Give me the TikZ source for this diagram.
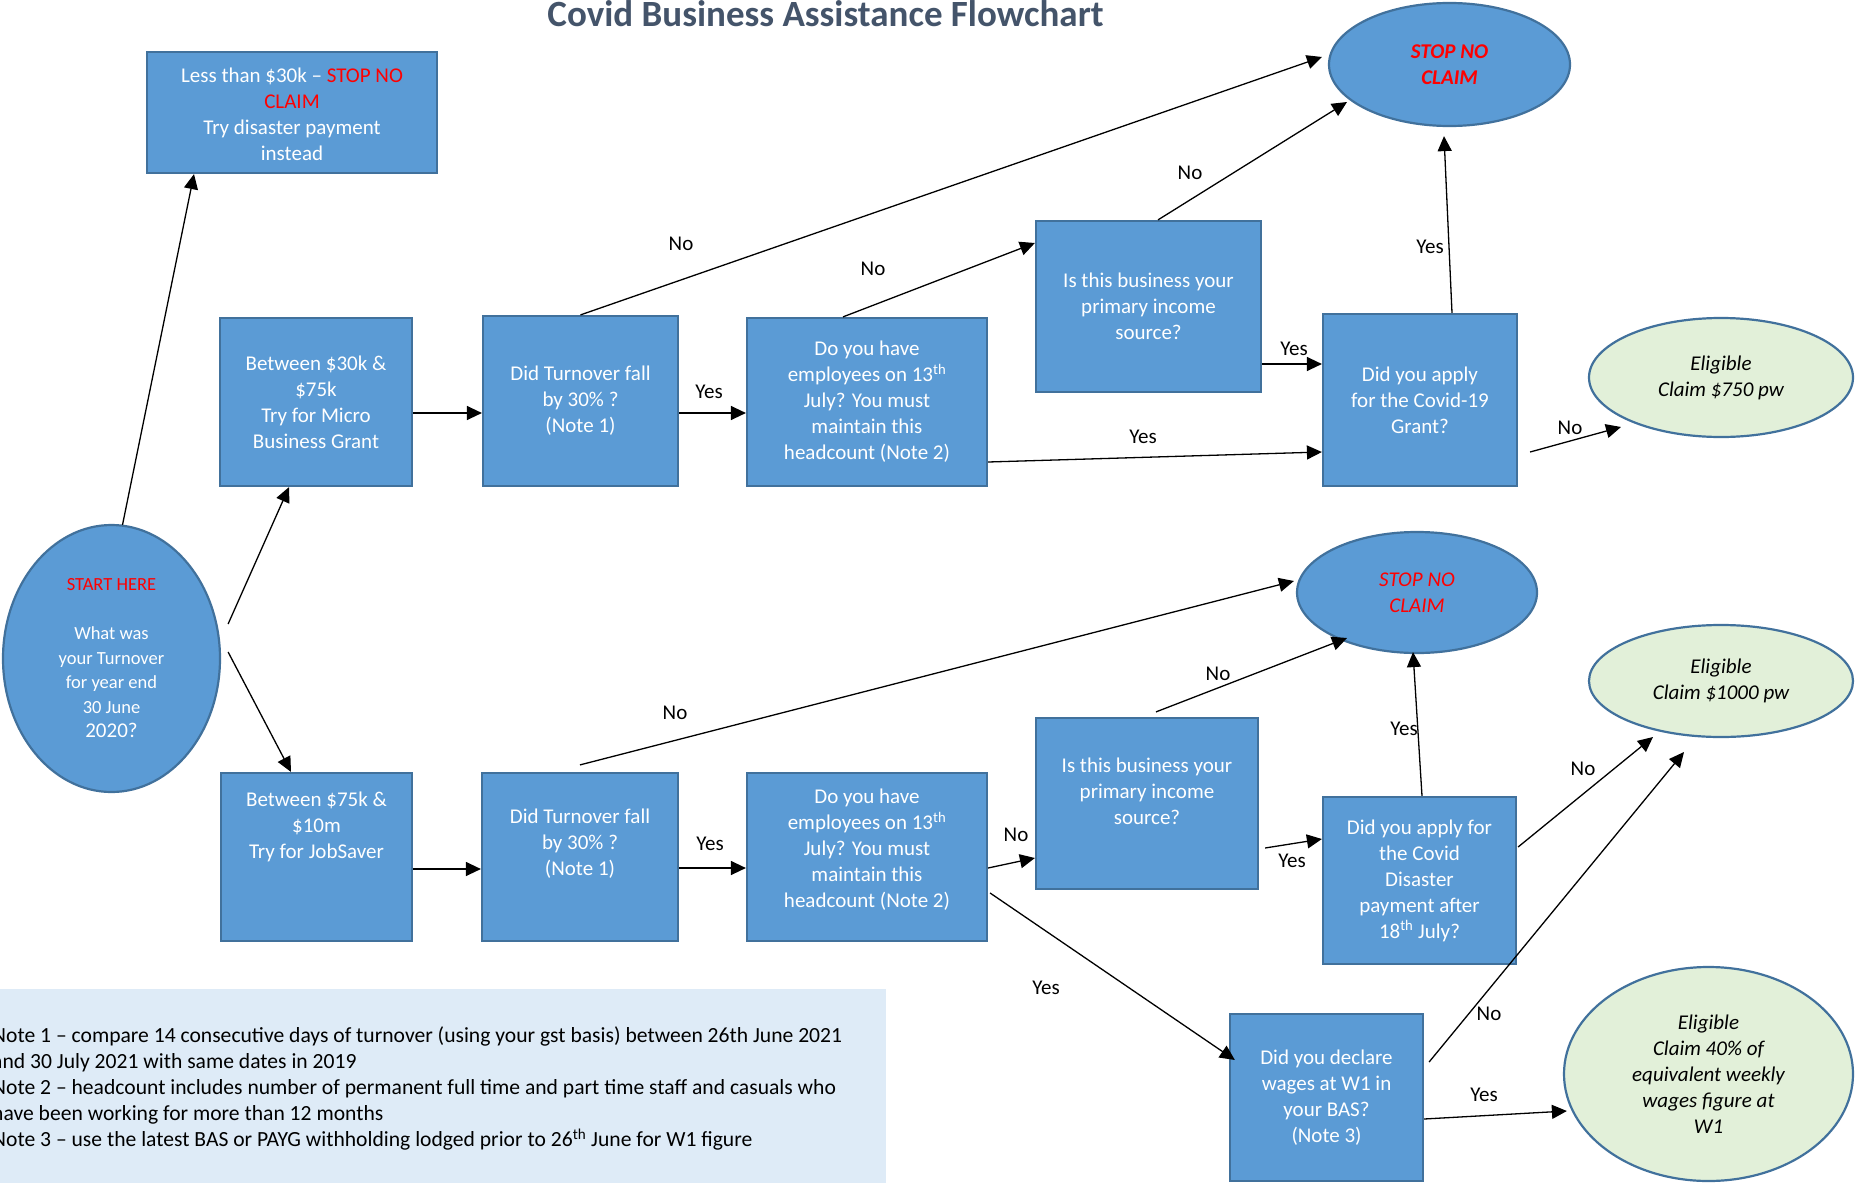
\documentclass[tikz,border=0pt]{standalone}
\usepackage{fontspec}
\setmainfont{Carlito}
\usetikzlibrary{shapes.geometric,arrows.meta,calc}
\definecolor{boxfill}{HTML}{5B9BD5}
\definecolor{boxline}{HTML}{41719C}
\definecolor{greenfill}{HTML}{E2F0D9}
\definecolor{notesfill}{HTML}{DEEBF7}
\definecolor{titlecol}{HTML}{44546A}
\definecolor{stopred}{HTML}{FF0000}
\begin{document}
\begin{tikzpicture}[x=1pt,y=-1pt,
  box/.style 2 args={draw=boxline, line width=2.2pt, fill=boxfill, text=white, align=center,
    inner sep=0pt, minimum width=#1pt, minimum height=#2pt, font=\fontsize{21}{26}\selectfont},
  boxtext/.style={text=white, align=center, inner sep=0pt, font=\fontsize{21}{26}\selectfont},
  oval/.style 2 args={ellipse, draw=boxline, line width=2.2pt, fill=boxfill, align=center,
    inner sep=0pt, minimum width=#1pt, minimum height=#2pt},
  goval/.style 2 args={ellipse, draw=boxline, line width=2.2pt, fill=greenfill, align=center,
    inner sep=0pt, minimum width=#1pt, minimum height=#2pt, font=\fontsize{21}{26}\selectfont\itshape},
  arr/.style={line width=1.3pt, -{Triangle[length=15pt,width=14pt]}},
  lbl/.style={inner sep=0pt, font=\fontsize{21}{26}\selectfont},
]
\useasboundingbox (0,0) rectangle (1856,1183);
\fill[white] (0,0) rectangle (1856,1183);

% title
\node[anchor=base, inner sep=0pt, text=titlecol, font=\fontsize{37}{44}\selectfont\bfseries] (title) at (825.5,27) {Covid Business Assistance Flowchart};

% notes panel
\fill[notesfill] (0,989) rectangle (886,1190);
\node[anchor=north west, inner sep=0pt, align=left, font=\fontsize{21.6}{26.2}\selectfont] (notes) at (-8,1026)
 {Note 1 – compare 14 consecutive days of turnover (using your gst basis) between 26th June 2021\\
  and 30 July 2021 with same dates in 2019\\
  Note 2 – headcount includes number of permanent full time and part time staff and casuals who\\
  have been working for more than 12 months\\
  Note 3 – use the latest BAS or PAYG withholding lodged prior to 26\textsuperscript{th} June for W1 figure};

% start
\node[oval={217}{267}, text=white, font=\fontsize{18.5}{24.5}\selectfont] (st) at (111.5,658.5)
 {\textcolor{stopred}{START HERE}\\\mbox{}\\What was\\your Turnover\\for year end\\30 June\\{\fontsize{21}{26}\selectfont 2020?}};

% top row
\node[box={290}{121}] (b1) at (292,112.5) {};
\node[boxtext] (b1t) at ($(b1)+(0,2)$)
 {Less than \$30k – \textcolor{stopred}{STOP NO}\\\textcolor{stopred}{CLAIM}\\Try disaster payment\\instead};
\node[box={192}{168}] (b2) at (316,402) {Between \$30k \&\\\$75k\\Try for Micro\\Business Grant};
\node[box={195}{170}] (b3) at (580.5,401) {Did Turnover fall\\by 30\% ?\\(Note 1)};
\node[box={240}{168}] (b4) at (867,402) {Do you have\\employees on 13\textsuperscript{th}\\July? You must\\maintain this\\headcount (Note 2)};
\node[box={225}{171}] (b5) at (1148.5,306.5) {Is this business your\\primary income\\source?};
\node[box={194}{172}] (b6) at (1420,400) {Did you apply\\for the Covid-19\\Grant?};
\node[oval={241}{123}, font=\fontsize{21}{26}\selectfont\bfseries\itshape, text=stopred] (stop1) at (1449.5,64.5) {STOP NO\\CLAIM};
\node[goval={264}{119}] (el1) at (1721,377.5) {Eligible\\Claim \$750 pw};

% bottom row
\node[box={191}{168}] (c2) at (316.5,857) {};
\node[boxtext] (c2t) at ($(c2)+(0,-30)$) {Between \$75k \&\\\$10m\\Try for JobSaver};
\node[box={196}{168}] (c3) at (580,857) {};
\node[boxtext] (c3t) at ($(c3)+(0,-13)$) {Did Turnover fall\\by 30\% ?\\(Note 1)};
\node[box={240}{168}] (c4) at (867,857) {};
\node[boxtext] (c4t) at ($(c4)+(0,-7)$) {Do you have\\employees on 13\textsuperscript{th}\\July? You must\\maintain this\\headcount (Note 2)};
\node[box={222}{171}] (c5) at (1147,803.5) {};
\node[boxtext] (c5t) at ($(c5)+(0,-12)$) {Is this business your\\primary income\\source?};
\node[box={193}{167}] (c6) at (1419.5,880.5) {Did you apply for\\the Covid\\Disaster\\payment after\\18\textsuperscript{th} July?};
\node[oval={240}{121}, font=\fontsize{21}{26}\selectfont\itshape, text=stopred] (stop2) at (1417,592.5) {STOP NO\\CLAIM};
\node[goval={264}{112}] (el2) at (1721,681) {Eligible\\Claim \$1000 pw};
\node[box={193}{167}] (c7) at (1326.5,1097.5) {Did you declare\\wages at W1 in\\your BAS?\\(Note 3)};
\node[goval={289}{214}] (el3) at (1708.5,1074) {Eligible\\Claim 40\% of\\equivalent weekly\\wages figure at\\W1};

% connectors from start
\draw[arr] ($(st.north)+(11,1)$) -- ($(b1.south)+(-98,0)$);
\draw[arr] ($(st.east)+(7,-34.5)$) -- ($(b2.south)+(-27,0)$);
\draw[arr] ($(st.east)+(7,-6.5)$) -- ($(c2.north)+(-25.5,0)$);

% top row connectors
\draw[arr] ($(b2.east)+(0,11)$) -- ($(b3.west)+(0,12)$);
\draw[arr] ($(b3.east)+(0,12)$) -- ($(b4.west)+(0,11)$);
\draw[arr] (b3.north) -- ($(stop1.west)+(-6,-7.5)$);
\draw[arr] ($(b4.north)+(-24,0)$) -- ($(b5.west)+(0,-63.5)$);
\draw[arr] ($(b5.north)+(9.5,0)$) -- ($(stop1.center)+(-102.5,37.5)$);
\draw[arr] ($(b5.east)+(0,57.5)$) -- ($(b6.west)+(0,-36)$);
\draw[arr] ($(b4.east)+(0,60)$) -- ($(b6.west)+(0,52)$);
\draw[arr] ($(b6.north)+(32,0)$) -- ($(stop1.south)+(-5.5,9)$);
\draw[arr] ($(b6.east)+(12,52)$) -- ($(el1.center)+(-100,49.5)$);

\node[lbl] (le) at (709,392) {Yes};
\node[lbl] (lf) at (681,244) {No};
\node[lbl] (lg) at (873,269) {No};
\node[lbl] (lh) at (1190,173) {No};
\node[lbl] (li) at (1294,349) {Yes};
\node[lbl] (lj) at (1143,437) {Yes};
\node[lbl] (lk) at (1430,247) {Yes};
\node[lbl] (ll) at (1570,428) {No};

% bottom row connectors
\draw[arr] ($(c2.east)+(0,12)$) -- ($(c3.west)+(0,12)$);
\draw[arr] ($(c3.east)+(0,11)$) -- ($(c4.west)+(0,11)$);
\draw[arr] ($(c3.north)+(0,-7)$) -- ($(stop2.west)+(-2,-11.5)$);
\draw[arr] ($(c4.east)+(0,11)$) -- ($(c5.west)+(0,54.5)$);
\draw[arr] ($(c5.north)+(9,-5)$) -- ($(stop2.center)+(-70,45.5)$);
\draw[arr] ($(c5.east)+(6,44.5)$) -- ($(c6.west)+(0,-41.5)$);
\draw[arr] ($(c6.north)+(2.5,0)$) -- ($(stop2.south)+(-4,-2)$);
\draw[arr] ($(c6.east)+(1,-33.5)$) -- ($(el2.center)+(-68,56)$);
\draw[arr] ($(c4.east)+(2,36)$) -- ($(c7.west)+(6,-37.5)$);
\draw[arr] ($(c7.east)+(5,-35.5)$) -- ($(el2.center)+(-37,71)$);
\draw[arr] ($(c7.east)+(0,21.5)$) -- ($(el3.west)+(4,37)$);

\node[lbl] (ln) at (710,844) {Yes};
\node[lbl] (lo) at (675,713) {No};
\node[lbl] (lp) at (1016,835) {No};
\node[lbl] (lq) at (1218,674) {No};
\node[lbl] (lr) at (1292,861) {Yes};
\node[lbl] (ls) at (1404,729) {Yes};
\node[lbl] (lt) at (1583,769) {No};
\node[lbl] (lu) at (1046,988) {Yes};
\node[lbl] (lv) at (1489,1014) {No};
\node[lbl] (lw) at (1484,1095) {Yes};
\end{tikzpicture}
\end{document}
